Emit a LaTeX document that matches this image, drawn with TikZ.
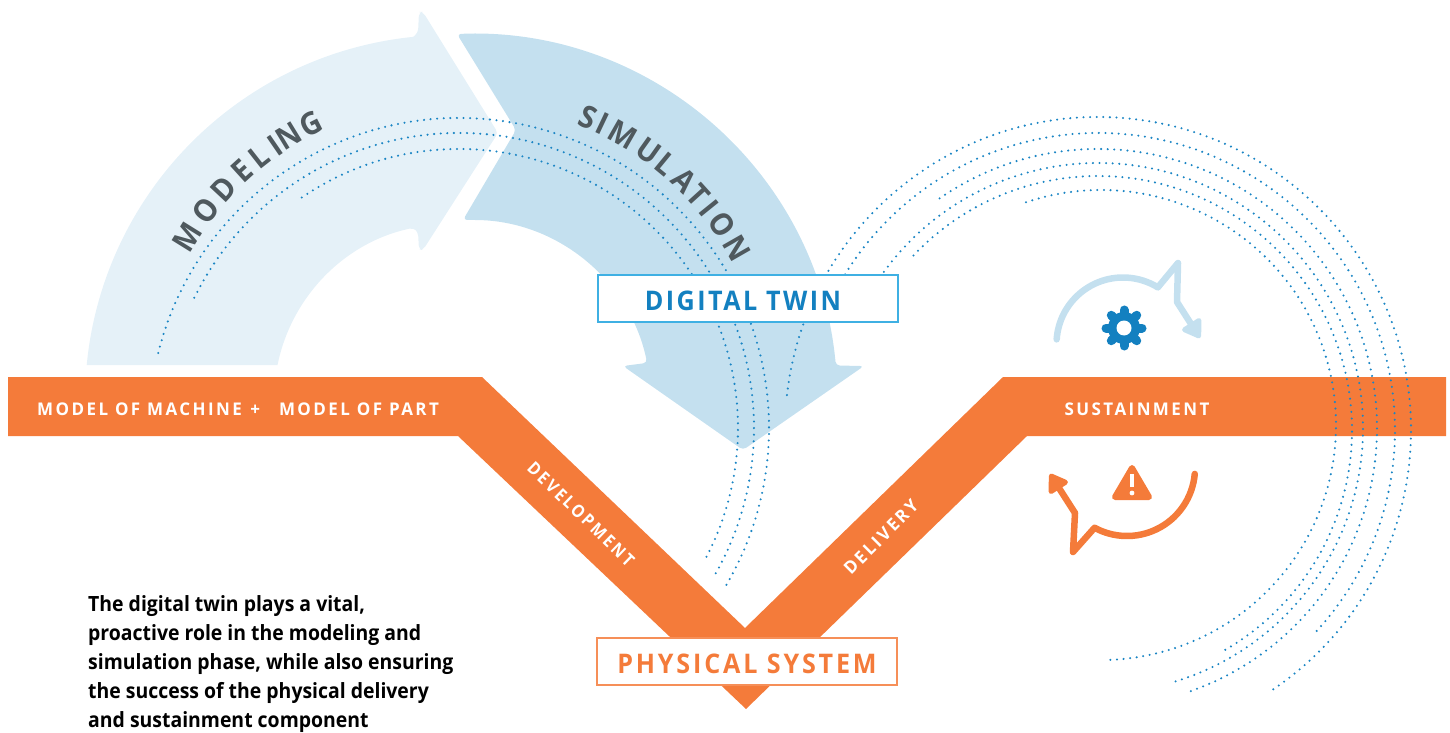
\documentclass[tikz,border=0pt]{standalone}
\usepackage{fontspec}
\setmainfont{Open Sans}
\usetikzlibrary{calc,arrows.meta}

\definecolor{modelblue}{HTML}{E5F1F8}
\definecolor{simblue}{HTML}{C4E0EF}
\definecolor{dotblue}{HTML}{1A85C4}
\definecolor{twinblue}{HTML}{1380C0}
\definecolor{frameblue}{HTML}{3FB0E3}
\definecolor{vorange}{HTML}{F47B3A}
\definecolor{lettergrey}{HTML}{4F595E}

\begin{document}
\begin{tikzpicture}[x=1pt, y=1pt,
    dotted_arc/.style={dotblue, line width=2.3pt, line cap=round, dash pattern=on 0pt off 6.6pt},
    arc_letter/.style={lettergrey, font=\fontsize{31}{36}\selectfont\bfseries\addfontfeature{FakeStretch=0.93}},
    band_label/.style={white, font=\fontsize{17.5}{20}\selectfont\bfseries\addfontfeature{LetterSpace=14,FakeStretch=0.97}},
    twin_box/.style={draw, fill=white, line width=1.2pt, minimum width=300pt, minimum height=47pt, text height=24pt, text depth=0pt, font=\fontsize{27}{32}\selectfont\bfseries\addfontfeature{LetterSpace=10.5,FakeStretch=0.93}},
    cycle_arrow/.style={line width=6.5pt, line join=round, line cap=round, -{Triangle[length=20pt,width=25pt,round]}}]

        \useasboundingbox (0,0) rectangle (1450,732);

        \coordinate (modeling_center) at (450,332);
        \coordinate (simulation_center) at (471,332);
        \coordinate (left_dots) at (459,304);
        \coordinate (right_dots) at (1098,302);

        % Modeling arrow
        \fill[modelblue] ($(modeling_center)+(174.5:365)$) arc[start angle=174.5, end angle=95.8, radius=365pt]
            [rounded corners=4pt] -- (418,699) -- (419,720) -- (423,720) -- (498,599) -- (423,482) -- (419,482) -- (418,500)
            -- ($(modeling_center)+(102:176)$) [sharp corners] arc[start angle=102, end angle=168.6, radius=176pt] -- cycle;

        % Simulation arrow
        \fill[simblue, rounded corners=4pt] (457,698) -- ($(simulation_center)+(90:366.5)$) arc[start angle=90, end angle=5.4, radius=366.5pt]
            -- (864,366) -- (743,282) -- (623,366) -- ($(simulation_center)+(11.9:180)$)
            arc[start angle=11.9, end angle=90, radius=180pt] -- (463,512) -- (516,602) -- cycle;

        % Orange V
        \fill[vorange] (8,355) -- (482,355) -- (745,104) -- (1003,355) -- (1446,355) -- (1446,296) -- (1027,296)
            -- (746,23) -- (458,296) -- (8,296) -- cycle;

        % Left dots
        \draw[dotted_arc] ($(left_dots)+(166:310)$) arc[start angle=166, end angle=-31.5, radius=310pt];
        \draw[dotted_arc] ($(left_dots)+(153.8:295)$) arc[start angle=153.8, end angle=-29.8, radius=295pt];
        \draw[dotted_arc] ($(left_dots)+(124.3:279)$) arc[start angle=124.3, end angle=-27.6, radius=279pt];

        % Right dots
        \draw[dotted_arc] ($(right_dots)+(173.6:313)$) arc[start angle=173.6, end angle=-56.3, radius=313pt];
        \draw[dotted_arc] ($(right_dots)+(148.4:297)$) arc[start angle=148.4, end angle=-43.6, radius=297pt];
        \draw[dotted_arc] ($(1098,304)+(124.6:279)$) arc[start angle=124.6, end angle=-71.3, radius=279pt];
        \draw[dotted_arc] ($(1098,304)+(143.9:265)$) arc[start angle=143.9, end angle=-73.3, radius=265pt];
        \draw[dotted_arc] ($(right_dots)+(136.6:254)$) arc[start angle=136.6, end angle=-60.5, radius=254pt];
        \draw[dotted_arc] ($(1101,307)+(108.6:235)$) arc[start angle=108.6, end angle=-89, radius=235pt];

        % Boxes
        \node[twin_box, draw=frameblue, text=twinblue] (digital_twin) at (748,433.5) {\addfontfeature{LetterSpace=9}DIGITAL TWIN\kern10pt};
        \node[twin_box, draw=vorange!85, text=vorange] (physical_system) at (747,70.5) {PHYSICAL SYSTEM};

        % Letters on the arrows
        \foreach \ltr/\ang [count=\i] in {M/148.1, O/142.1, D/137, E/132.2, L/128.1, I/124.5, N/121.4, G/116.7}
            \node[arc_letter, rotate=\ang-90] (modeling_\i) at ($(modeling_center)+(\ang:309)$) {\ltr};
        \foreach \ltr/\ang [count=\i] in {S/67.6, I/64.6, M/60.3, U/54.6, L/50.5, A/45.8, T/42.1, I/38.9, O/34.9, N/29.8}
            \node[arc_letter, rotate=\ang-90] (simulation_\i) at ($(simulation_center)+(\ang:306)$) {\ltr};

        % Band labels
        \node[band_label, anchor=west, inner sep=0pt] (machine_part) at (37,323) {MODEL OF MACHINE\hspace{1.5pt} +\hspace{19pt}MODEL OF PART};
        \node[band_label] (sustainment) at (1137,323) {SUSTAINMENT};
        \node[band_label, rotate=-44] (development) at (581,218) {\addfontfeature{FakeStretch=0.9}DEVELOPMENT};
        \node[band_label, rotate=45] (delivery) at (881,195) {DELIVERY};

        % Upper cycle with gear
        \coordinate (gear_center) at (1124,404);
        \coordinate (up_peak) at (1178,469);
        \coordinate (up_knee) at (1177,430);
        \coordinate (up_tip) at (1200,394);
        \draw[simblue, cycle_arrow] ($(1123,388)+(176:66.5)$) arc[start angle=176, end angle=58.4, radius=66.5pt]
            -- (up_peak) -- (up_knee) -- (up_tip);
        \fill[twinblue] (gear_center) circle[radius=16pt];
        \foreach \ang in {0,45,...,315}
            \draw[twinblue, line width=9pt, line cap=round] (gear_center) -- ++(\ang:18);
        \fill[white] (gear_center) circle[radius=7.5pt];

        % Lower cycle with warning sign
        \coordinate (low_peak) at (1073,180);
        \coordinate (low_knee) at (1075,219);
        \coordinate (low_tip) at (1050,258);
        \draw[vorange, cycle_arrow] ($(1127,264)+(-5:68)$) arc[start angle=-5, end angle=-118.5, radius=68pt]
            -- (low_peak) -- (low_knee) -- (low_tip);
        \fill[vorange, draw=vorange, line width=6pt, line join=round] (1132,264) -- (1149,235) -- (1115,235) -- cycle;
        \draw[white, line width=4pt] (1132,258) -- (1132,245);
        \fill[white] (1132,239) circle[radius=2.4pt];

        % Text below the V
        \node[anchor=north west, inner sep=0pt, align=left, font=\fontsize{21}{29}\selectfont\bfseries\addfontfeature{FakeStretch=0.925}] (summary) at (88,137)
            {The digital twin plays a vital,\\proactive role in the modeling and\\simulation phase, while also ensuring\\the success of the physical delivery\\and sustainment component};

    \end{tikzpicture}
\end{document}
